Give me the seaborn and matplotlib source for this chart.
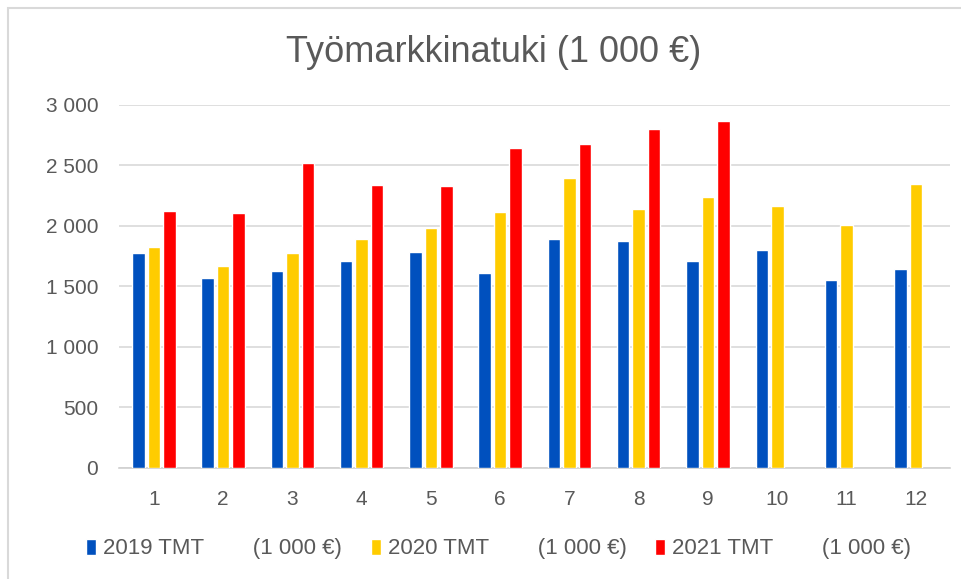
import pandas as pd
import seaborn as sns
import matplotlib.pyplot as plt
import numpy as np
from matplotlib.patches import Rectangle

# values (1 000 EUR per month)
months = [str(m) for m in range(1, 13)]
tmt_2019 = [1772, 1570, 1625, 1708, 1783, 1606, 1892, 1878, 1708, 1797, 1550, 1647]
tmt_2020 = [1828, 1667, 1772, 1889, 1978, 2117, 2392, 2136, 2242, 2167, 2006, 2347]
tmt_2021 = [2125, 2103, 2522, 2339, 2328, 2639, 2672, 2800, 2864, np.nan, np.nan, np.nan]
series_names = ['2019 TMT        (1 000 €)', '2020 TMT        (1 000 €)', '2021 TMT        (1 000 €)']
y_ticks = [0, 500, 1000, 1500, 2000, 2500, 3000]

colors = ['#0050BE', '#FFCC00', '#FF0000']
grey_text = '#595959'


def main():
    df = pd.DataFrame({
        'Kuukausi': months * 3,
        'Arvo': tmt_2019 + tmt_2020 + tmt_2021,
        'Sarja': [series_names[0]] * 12 + [series_names[1]] * 12 + [series_names[2]] * 12,
    })

    sns.set_style('white')
    plt.rcParams['font.family'] = ['Liberation Sans', 'DejaVu Sans']

    fig = plt.figure(figsize=(9.61, 5.79), dpi=100)
    ax = fig.add_axes([0.124, 0.192, 0.865, 0.627])

    sns.barplot(data=df, x='Kuukausi', y='Arvo', hue='Sarja', hue_order=series_names,
                palette=colors, order=months, errorbar=None, width=0.67, gap=0.19,
                saturation=1, ax=ax, zorder=3)

    ax.set_ylim(0, 3000)
    ax.set_xlim(-0.5, 11.5)
    ax.set_yticks(y_ticks)
    ax.set_yticklabels([f'{v:,}'.replace(',', ' ') for v in y_ticks])
    ax.yaxis.grid(True, color='#d9d9d9', linewidth=1.2, zorder=0)
    ax.set_axisbelow(True)
    for side in ['top', 'right', 'left']:
        ax.spines[side].set_visible(False)
    ax.spines['bottom'].set_color('#d0d0d0')
    ax.spines['bottom'].set_linewidth(1.2)
    ax.tick_params(axis='both', length=0, labelsize=15, colors=grey_text)
    ax.tick_params(axis='y', pad=15)
    ax.tick_params(axis='x', pad=16)
    ax.set_xlabel('')
    ax.set_ylabel('')

    fig.text(0.514, 0.909, 'Työmarkkinatuki (1 000 €)', ha='center', va='center',
             fontsize=26, color=grey_text)

    handles, labels = ax.get_legend_handles_labels()
    ax.legend(handles, labels, loc='center', bbox_to_anchor=(0.519, 0.052),
              bbox_transform=fig.transFigure, ncol=3, frameon=False, fontsize=16,
              handlelength=0.45, handleheight=0.75, handletextpad=0.3,
              columnspacing=1.3, borderaxespad=0, labelcolor=grey_text)

    # light frame of the chart area
    fig.patches.append(Rectangle((0.008, -0.1), 1.2, 1.086, transform=fig.transFigure,
                                 fill=False, edgecolor='#d9d9d9', linewidth=1.5))

    fig.savefig('out.png', dpi=100)


if __name__ == '__main__':
    main()
